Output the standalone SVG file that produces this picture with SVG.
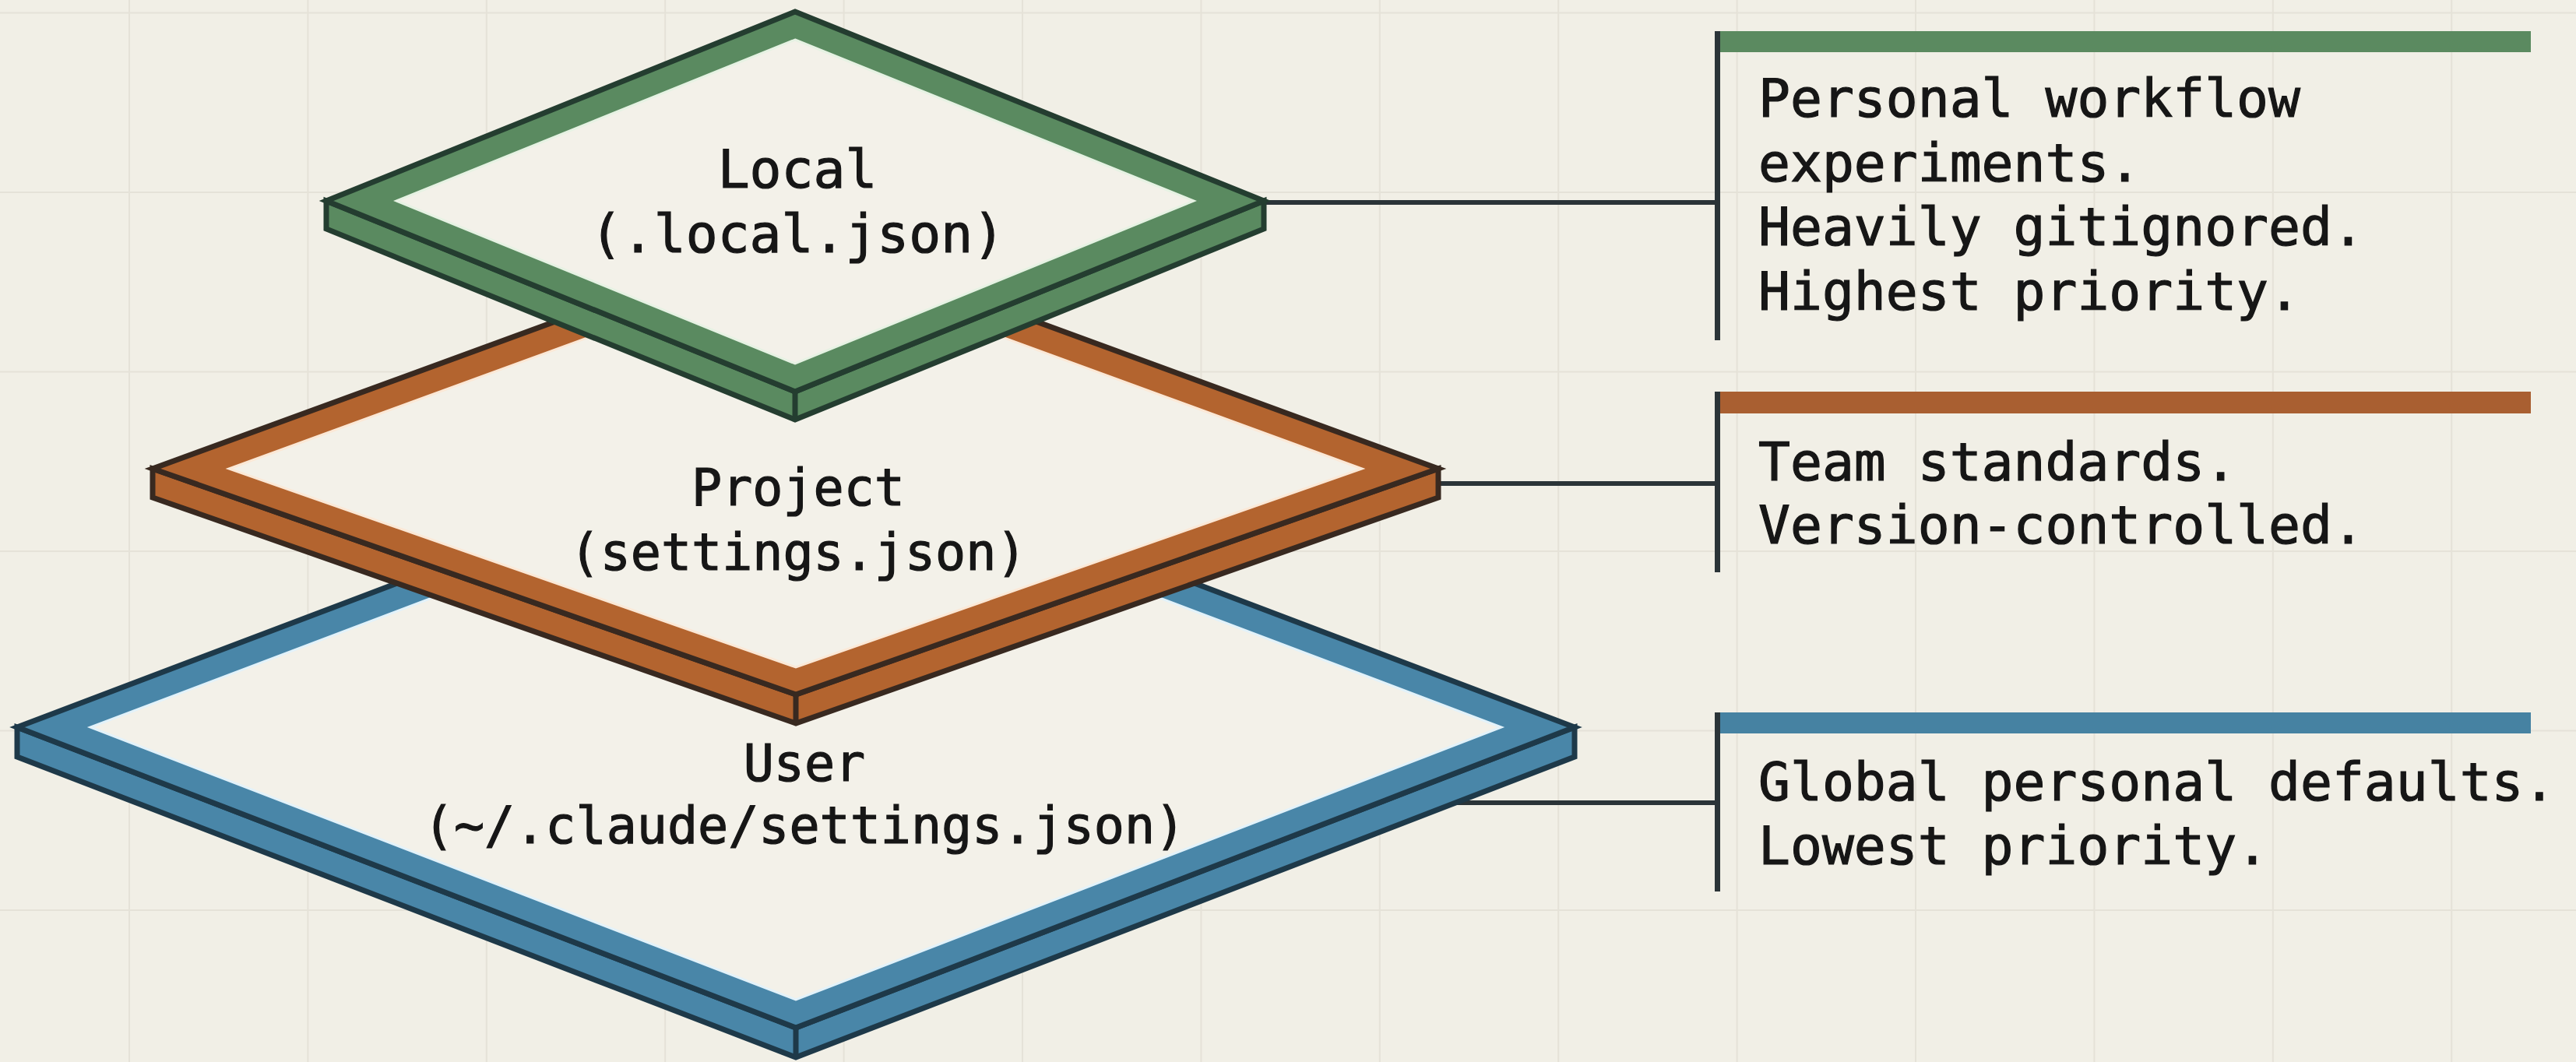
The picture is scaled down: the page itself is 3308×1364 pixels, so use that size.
<svg xmlns="http://www.w3.org/2000/svg" width="3308" height="1364" viewBox="0 0 3308 1364">
  <style>
    .bg { fill: #f1efe6; }
    .grid { fill: none; stroke: #e5e2d8; stroke-width: 2; }
    .edge { stroke-width: 7; stroke-linejoin: miter; stroke-miterlimit: 10; }
    .g-ring { fill: #5a8a60; stroke: #243d30; }
    .o-ring { fill: #b3642f; stroke: #382920; }
    .b-ring { fill: #4986a8; stroke: #1e3949; }
    .inner { fill: #f3f1e9; }
    .g-in { stroke: #e6f2e3; stroke-width: 3; }
    .o-in { stroke: #fbe8d6; stroke-width: 3; }
    .b-in { stroke: #e2f2fa; stroke-width: 3; }
    .conn { fill: none; stroke: #2b3438; stroke-width: 6; }
    .vbar { fill: #2b3438; }
    .label { font-family: "DejaVu Sans Mono", "Liberation Mono", monospace; fill: #161616; stroke: #161616; stroke-width: 1.2; }
    .node-label { text-anchor: middle; }
    .panel-text { font-size: 68px; }
  </style>

  <rect class="bg" x="0" y="0" width="3308" height="1364"/>

  <path class="grid" d="M166 0V1364 M395.4 0V1364 M624.8 0V1364 M854.2 0V1364 M1083.6 0V1364 M1313 0V1364 M1542.4 0V1364 M1771.8 0V1364 M2001.2 0V1364 M2230.6 0V1364 M2460 0V1364 M2689.4 0V1364 M2918.8 0V1364 M3148.2 0V1364 M0 16.5H3308 M0 247H3308 M0 477.5H3308 M0 708H3308 M0 938.5H3308 M0 1169H3308"/>

  <g id="connectors">
    <line class="conn" x1="1600" y1="260" x2="2205" y2="260"/>
    <line class="conn" x1="1830" y1="621" x2="2205" y2="621"/>
    <line class="conn" x1="1850" y1="1031" x2="2205" y2="1031"/>
  </g>

  <g id="user">
    <polygon class="b-ring edge" points="22,934 1022,1320 2022,934 2022,972 1022,1358 22,972"/>
    <polygon class="b-ring edge" points="1022,555 2022,934 1022,1320 22,934"/>
    <polygon class="inner b-in" points="1022,591 1928,934 1022,1284 116,934"/>
    <line class="edge" stroke="#1e3949" x1="1022" y1="1320" x2="1022" y2="1358"/>
    <text class="label node-label" font-size="65" x="1033" y="1003">User</text>
    <text class="label node-label" font-size="65" x="1033" y="1083">(~/.claude/settings.json)</text>
  </g>

  <g id="project">
    <polygon class="o-ring edge" points="196,602 1022,892 1847,602 1847,639 1022,929 196,639"/>
    <polygon class="o-ring edge" points="1022,300 1847,602 1022,892 196,602"/>
    <polygon class="inner o-in" points="1022,336 1749,602 1022,857 294,602"/>
    <line class="edge" stroke="#382920" x1="1022" y1="892" x2="1022" y2="929"/>
    <text class="label node-label" font-size="65" x="1025" y="649">Project</text>
    <text class="label node-label" font-size="65" x="1025" y="732">(settings.json)</text>
  </g>

  <g id="local">
    <polygon class="g-ring edge" points="419,258 1021,503 1623,258 1623,294 1021,539 419,294"/>
    <polygon class="g-ring edge" points="1021,15 1623,258 1021,503 419,258"/>
    <polygon class="inner g-in" points="1021,51 1533,258 1021,467 509,258"/>
    <line class="edge" stroke="#243d30" x1="1021" y1="503" x2="1021" y2="539"/>
    <text class="label node-label" font-size="68" x="1024" y="241">Local</text>
    <text class="label node-label" font-size="68" x="1024" y="324">(.local.json)</text>
  </g>

  <g id="panel-local">
    <rect x="2205" y="40" width="1045" height="27" fill="#5b8a60"/>
    <rect class="vbar" x="2202" y="40" width="7" height="397"/>
    <text class="label panel-text" x="2258" y="150">Personal workflow</text>
    <text class="label panel-text" x="2258" y="233">experiments.</text>
    <text class="label panel-text" x="2258" y="315">Heavily gitignored.</text>
    <text class="label panel-text" x="2258" y="398">Highest priority.</text>
  </g>

  <g id="panel-project">
    <rect x="2205" y="503" width="1045" height="28" fill="#a95f31"/>
    <rect class="vbar" x="2202" y="503" width="7" height="232"/>
    <text class="label panel-text" x="2258" y="617">Team standards.</text>
    <text class="label panel-text" x="2258" y="698">Version-controlled.</text>
  </g>

  <g id="panel-user">
    <rect x="2205" y="915" width="1045" height="27" fill="#4682a2"/>
    <rect class="vbar" x="2202" y="915" width="7" height="230"/>
    <text class="label panel-text" x="2258" y="1028">Global personal defaults.</text>
    <text class="label panel-text" x="2258" y="1110">Lowest priority.</text>
  </g>
</svg>
